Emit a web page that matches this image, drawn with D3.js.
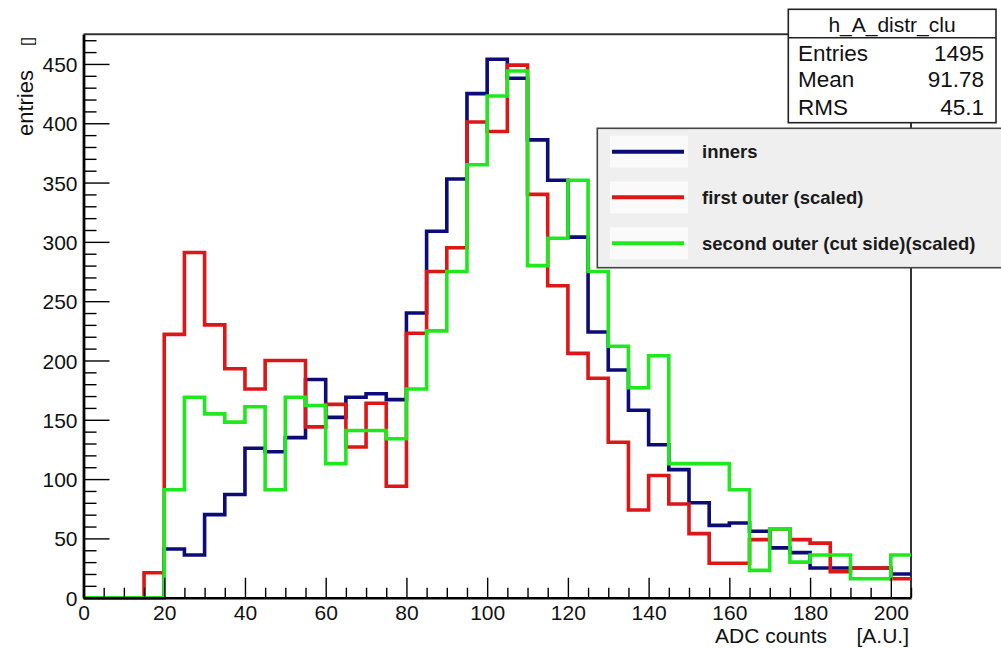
<!DOCTYPE html>
<html>
<head>
<meta charset="utf-8">
<script src="https://cdn.jsdelivr.net/npm/d3@7"></script>
<style>
  html, body { margin: 0; padding: 0; background: #ffffff; }
  svg { display: block; font-family: "Liberation Sans", Arial, Helvetica, sans-serif; }
</style>
</head>
<body>
<svg id="chart" width="1001" height="648"></svg>
<script>
// Lower edges of the 5-unit ADC bins
const binLow = [0, 5, 10, 15, 20, 25, 30, 35, 40, 45, 50, 55, 60, 65, 70, 75, 80, 85, 90, 95,
                100, 105, 110, 115, 120, 125, 130, 135, 140, 145, 150, 155, 160, 165, 170, 175,
                180, 185, 190, 195, 200];
const binUpperEdge = 205;

// Bin contents per sensor group
const inners = [0, 0, 0, 0, 41, 36, 70, 87, 126, 123, 135, 184, 152, 169, 172, 167, 240, 309, 353, 425,
                454, 438, 386, 352, 304, 224, 192, 158, 129, 108, 80, 61, 63, 56, 42, 38,
                25, 25, 25, 25, 20];
const firstOuter = [0, 0, 0, 21, 222, 291, 230, 193, 176, 200, 200, 144, 163, 127, 164, 94, 223, 275, 295, 401,
                    393, 449, 340, 263, 206, 185, 131, 74, 103, 79, 54, 29, 29, 49, 58, 49,
                    46, 22, 25, 25, 16];
const secondOuter = [0, 0, 0, 0, 91, 169, 155, 148, 161, 91, 169, 162, 113, 141, 141, 134, 176, 225, 275, 365,
                     423, 444, 280, 303, 352, 275, 212, 177, 204, 113, 113, 113, 91, 23, 58, 30,
                     36, 36, 16, 16, 36];

const seriesNames = ["inners", "first outer (scaled)", "second outer (cut side)(scaled)"];
const seriesColors = ["#0c0c78", "#dc1717", "#1fe81f"];

const xTickLabels = [0, 20, 40, 60, 80, 100, 120, 140, 160, 180, 200];
const yTickLabels = [0, 50, 100, 150, 200, 250, 300, 350, 400, 450];

const statsTitle = "h_A_distr_clu";
const statsNames = ["Entries", "Mean", "RMS"];
const statsValues = ["1495", "91.78", "45.1"];

const xTitle = "ADC counts";
const xUnit = "[A.U.]";
const yTitle = "entries";
const yUnit = "[]";

// ---- layout ----
const svg = d3.select("#chart");
const frame = { left: 83.5, right: 911, top: 34.3, bottom: 597.7 };

const x = d3.scaleLinear().domain([0, 205]).range([frame.left, frame.right]);
const y = d3.scaleLinear().domain([0, 475]).range([frame.bottom, frame.top]);

svg.append("rect").attr("width", 1001).attr("height", 648).attr("fill", "#ffffff");

// frame top and right edges
svg.append("path")
  .attr("d", `M${frame.left},${frame.top}H${frame.right}V${frame.bottom}`)
  .attr("fill", "none").attr("stroke", "#333").attr("stroke-width", 2);

// histograms (step outlines)
const step = d3.line()
  .x(d => x(d[0]))
  .y(d => y(d[1]))
  .curve(d3.curveStepAfter);

[inners, firstOuter, secondOuter].forEach((vals, k) => {
  const pts = binLow.map((b, i) => [b, vals[i]]);
  pts.push([binUpperEdge, vals[vals.length - 1]]);
  svg.append("path")
    .attr("d", step(pts))
    .attr("fill", "none")
    .attr("stroke", seriesColors[k])
    .attr("stroke-width", 3.6)
    .attr("stroke-linejoin", "miter");
});

// ---- axes ----
function styleAxis(g, width) {
  g.select(".domain").attr("stroke", "#000").attr("stroke-width", width);
  g.selectAll(".tick line").attr("stroke", "#000").attr("stroke-width", 1.4);
  g.selectAll("text").attr("fill", "#111").style("font-size", "21px")
    .style("font-family", '"Liberation Sans", Arial, sans-serif');
}

const xMinor = d3.range(0, 206, 5).filter(v => v % 20 !== 0);
svg.append("g")
  .attr("transform", `translate(0,${frame.bottom})`)
  .call(d3.axisBottom(x).tickValues(xMinor).tickSizeInner(-10).tickSizeOuter(0).tickFormat(""))
  .call(g => { g.select(".domain").remove(); g.selectAll(".tick line").attr("stroke", "#000").attr("stroke-width", 1.4); });

svg.append("g")
  .attr("transform", `translate(0,${frame.bottom})`)
  .call(d3.axisBottom(x).tickValues(xTickLabels).tickSizeInner(-20).tickSizeOuter(0).tickPadding(6).tickFormat(d3.format("d")))
  .call(g => styleAxis(g, 2.4))
  .call(g => g.selectAll("text").attr("dy", null).attr("y", 22));

const yMinor = d3.range(0, 476, 10).filter(v => v % 50 !== 0);
svg.append("g")
  .attr("transform", `translate(${frame.left},0)`)
  .call(d3.axisLeft(y).tickValues(yMinor).tickSizeInner(-13).tickSizeOuter(0).tickFormat(""))
  .call(g => { g.select(".domain").remove(); g.selectAll(".tick line").attr("stroke", "#000").attr("stroke-width", 1.4); });

svg.append("g")
  .attr("transform", `translate(${frame.left},0)`)
  .call(d3.axisLeft(y).tickValues(yTickLabels).tickSizeInner(-26).tickSizeOuter(0).tickPadding(6).tickFormat(d3.format("d")))
  .call(g => styleAxis(g, 2.8))
  .call(g => g.selectAll("text").attr("dy", "0.36em"));

// axis titles
svg.append("text").attr("x", 827).attr("y", 643).attr("text-anchor", "end")
  .style("font-size", "21px").attr("fill", "#111").text(xTitle);
svg.append("text").attr("x", 909).attr("y", 643).attr("text-anchor", "end")
  .style("font-size", "21px").attr("fill", "#111").text(xUnit);

svg.append("text").attr("transform", "translate(33,70) rotate(-90)").attr("text-anchor", "end")
  .style("font-size", "22px").attr("fill", "#111").text(yTitle);
svg.append("text").attr("transform", "translate(33,37) rotate(-90)").attr("text-anchor", "end")
  .style("font-size", "16px").attr("fill", "#111").text(yUnit);

// ---- statistics box ----
const stats = svg.append("g");
stats.append("rect").attr("x", 788.3).attr("y", 9.3).attr("width", 207.7).attr("height", 113.4)
  .attr("fill", "#fff").attr("stroke", "#222").attr("stroke-width", 1.6);
stats.append("line").attr("x1", 788.3).attr("x2", 996).attr("y1", 37.7).attr("y2", 37.7)
  .attr("stroke", "#222").attr("stroke-width", 1.6);
stats.append("text").attr("x", 892).attr("y", 31.5).attr("text-anchor", "middle")
  .style("font-size", "21px").attr("fill", "#111").text(statsTitle);
const rowBase = [61, 87.3, 115];
statsNames.forEach((n, i) => {
  stats.append("text").attr("x", 798).attr("y", rowBase[i])
    .style("font-size", "22.5px").attr("fill", "#111").text(n);
  stats.append("text").attr("x", 984).attr("y", rowBase[i]).attr("text-anchor", "end")
    .style("font-size", "22.5px").attr("fill", "#111").text(statsValues[i]);
});

// ---- legend ----
const legend = svg.append("g");
legend.append("rect").attr("x", 597.3).attr("y", 128.3).attr("width", 410).attr("height", 139.4)
  .attr("fill", "#efefef").attr("stroke", "#444").attr("stroke-width", 1.6);
const sampleY = [151.7, 197.3, 243.3];
seriesNames.forEach((name, i) => {
  legend.append("rect").attr("x", 610).attr("y", sampleY[i] - 16).attr("width", 78).attr("height", 32)
    .attr("fill", "#fafafa");
  legend.append("line").attr("x1", 612).attr("x2", 684).attr("y1", sampleY[i]).attr("y2", sampleY[i])
    .attr("stroke", seriesColors[i]).attr("stroke-width", 4);
  legend.append("text").attr("x", 702).attr("y", sampleY[i] + 6.6)
    .style("font-size", "18.5px").style("font-weight", "bold").attr("fill", "#1a1a1a").text(name);
});
</script>
</body>
</html>
